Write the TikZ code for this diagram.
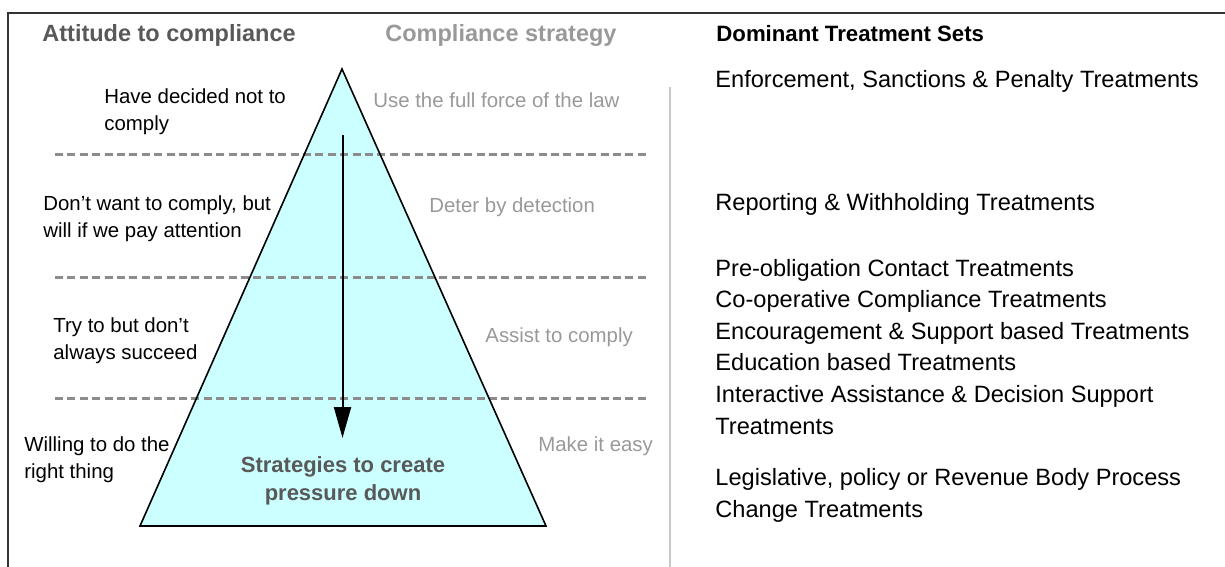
\documentclass[tikz,border=0pt]{standalone}
\usepackage{fontspec}
\setmainfont{Liberation Sans}
\usetikzlibrary{arrows.meta}
\definecolor{tricyan}{HTML}{CCFFFF}
\definecolor{darkgr}{HTML}{595959}
\definecolor{midgr}{HTML}{999999}
\definecolor{dashgr}{HTML}{8C8C8C}
\definecolor{sepgr}{HTML}{C8C8C8}
\definecolor{framegr}{HTML}{333333}
\begin{document}
\begin{tikzpicture}[x=0.5pt,y=-0.5pt,
  hdr/.style={font=\fontsize{11.75pt}{14pt}\selectfont\bfseries, anchor=base west, inner sep=0pt},
  lab/.style={font=\fontsize{10.2pt}{13.5pt}\selectfont, anchor=base west, inner sep=0pt, align=left},
  strat/.style={font=\fontsize{10.2pt}{13pt}\selectfont, text=midgr, anchor=base west, inner sep=0pt},
  treat/.style={font=\fontsize{11.8pt}{15.8pt}\selectfont, anchor=base west, inner sep=0pt, align=left},
  level/.style={dashgr, line width=1.5pt, dash pattern=on 4pt off 2.2pt},
]
\useasboundingbox (0,0) rectangle (1225,567);
% frame
\draw[framegr, line width=1pt] (8,567) -- (8,13) -- (1225,13);
% separator
\draw[sepgr, line width=0.8pt] (670,87) -- (670,567);
% pyramid
\coordinate (apex) at (342,69);
\coordinate (bl) at (140,526);
\coordinate (br) at (546,526);
\fill[tricyan] (apex) -- (br) -- (bl) -- cycle;
% level lines
\draw[level] (55,154) -- (648,154);
\draw[level] (55,277) -- (648,277);
\draw[level] (55,398) -- (648,398);
\draw[black, line width=0.8pt, line join=miter] (apex) -- (br) -- (bl) -- cycle;
% arrow
\coordinate (atop) at (342.5,135);
\coordinate (atip) at (342.5,438);
\draw[black, line width=1pt, -{Triangle[width=8.5pt,length=15.5pt]}] (atop) -- (atip);
% headers
\node[hdr, text=darkgr] (h1) at (42,42) {Attitude to compliance};
\node[hdr, text=midgr] (h2) at (385,42) {Compliance strategy};
\node[hdr, text=black, font=\fontsize{11.1pt}{14pt}\selectfont\bfseries] (h3) at (716,42) {Dominant Treatment Sets};
% attitude labels (anchor = baseline of last line)
\node[lab] (a1) at (104,131) {Have decided not to\\comply};
\node[lab] (a2) at (43,237) {Don’t want to comply, but\\will if we pay attention};
\node[lab] (a3) at (53,359) {Try to but don’t\\always succeed};
\node[lab] (a4) at (24,478) {Willing to do the\\right thing};
% strategies
\node[strat] (s1) at (373,107) {Use the full force of the law};
\node[strat] (s2) at (429,212) {Deter by detection};
\node[strat] (s3) at (485,342) {Assist to comply};
\node[strat] (s4) at (538,451) {Make it easy};
% centre text
\node[font=\fontsize{11pt}{14pt}\selectfont\bfseries, text=darkgr, align=center, inner sep=0pt, anchor=base] (ctr) at (343,500) {Strategies to create\\pressure down};
% treatments
\node[treat] (t1) at (715,88) {Enforcement, Sanctions \& Penalty Treatments};
\node[treat] (t2) at (715,210) {Reporting \& Withholding Treatments};
\node[treat] (t3) at (715,434) {Pre-obligation Contact Treatments\\Co-operative Compliance Treatments\\Encouragement \& Support based Treatments\\Education based Treatments\\Interactive Assistance \& Decision Support\\Treatments};
\node[treat] (t4) at (715,517) {Legislative, policy or Revenue Body Process\\Change Treatments};
\end{tikzpicture}
\end{document}
